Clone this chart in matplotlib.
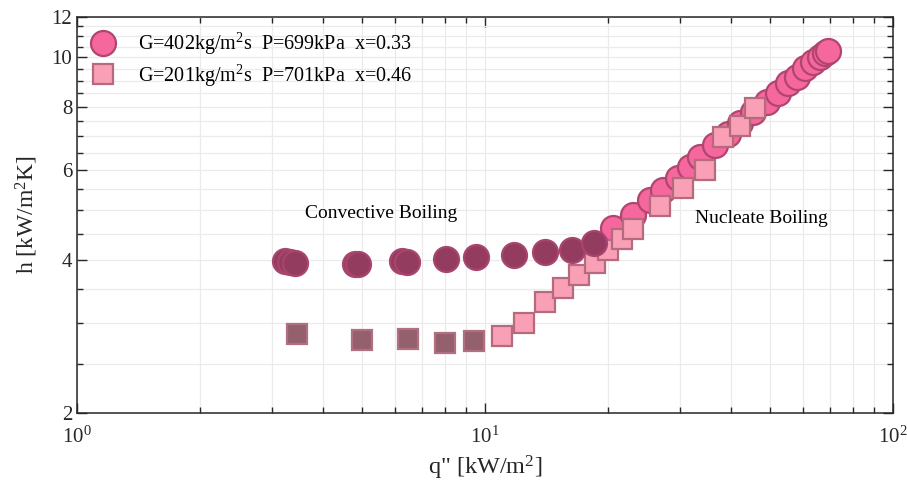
import matplotlib
matplotlib.use("Agg")
import matplotlib.pyplot as plt
import numpy as np
from matplotlib.ticker import FixedLocator, LogLocator, NullFormatter

plt.rcParams["font.family"] = ["Liberation Serif", "DejaVu Serif"]
plt.rcParams["mathtext.fontset"] = "custom"
plt.rcParams["mathtext.rm"] = "Liberation Serif"
plt.rcParams["mathtext.it"] = "Liberation Serif:italic"

# G=402 series (circles): convective region and nucleate region
q_402_conv = [3.24, 3.33, 3.42, 4.80, 4.88, 6.26, 6.44, 8.02, 9.50, 11.8, 14.0, 16.3, 18.5]
h_402_conv = [3.98, 3.96, 3.94, 3.93, 3.92, 3.98, 3.96, 4.01, 4.05, 4.09, 4.14, 4.18, 4.32]
q_402_nuc = [20.6, 23.0, 25.4, 27.3, 29.7, 31.8, 33.7, 36.6, 39.4, 42.2,
             45.4, 49.1, 52.3, 55.3, 58.2, 60.8, 63.7, 66.2, 68.1, 69.3]
h_402_nuc = [4.62, 4.90, 5.24, 5.49, 5.79, 6.09, 6.37, 6.73, 7.07, 7.43,
             7.81, 8.17, 8.51, 8.90, 9.15, 9.53, 9.79, 10.01, 10.20, 10.29]

# G=201 series (squares)
q_201_conv = [3.46, 4.99, 6.48, 7.98, 9.40]
h_201_conv = [2.86, 2.78, 2.80, 2.75, 2.77]
q_201_nuc = [11.0, 12.46, 14.03, 15.54, 17.0, 18.6, 20.0, 21.7, 23.05,
             26.85, 30.6, 34.6, 38.3, 42.2, 45.9]
h_201_nuc = [2.83, 3.01, 3.30, 3.52, 3.73, 3.94, 4.18, 4.40, 4.60,
             5.10, 5.54, 6.01, 6.97, 7.33, 7.95]

label_402 = "G=402kg/m$^2$s  P=699kPa  x=0.33"
label_201 = "G=201kg/m$^2$s  P=701kPa  x=0.46"

y_major = [2, 4, 6, 8, 10, 12]
y_minor = [v for v in np.arange(2.5, 12.0, 0.5) if v not in y_major]

fig = plt.figure(figsize=(9.07, 4.92), dpi=100)
ax = fig.add_axes([0.0849, 0.1606, 0.8997, 0.8048])

ax.plot(q_402_nuc, h_402_nuc, "o", ms=18, mfc="#f5679d", mec="#b0456f", mew=1.6,
        label=label_402, zorder=3)
ax.plot(q_201_nuc, h_201_nuc, "s", ms=14, mfc="#f9a0b6", mec="#b56a7e", mew=1.6,
        label=label_201, zorder=4)
ax.plot(q_402_conv, h_402_conv, "o", ms=18, mfc="#943b60", mec="#a8456f", mew=1.6,
        zorder=5)
ax.plot(q_201_conv, h_201_conv, "s", ms=14, mfc="#94606d", mec="#b07080", mew=1.6,
        zorder=5)

ax.set_xscale("log")
ax.set_yscale("log")
ax.set_xlim(1, 100)
ax.set_ylim(2, 12)

ax.xaxis.set_major_locator(LogLocator(base=10))
ax.xaxis.set_minor_locator(LogLocator(base=10, subs=np.arange(2, 10)))
ax.xaxis.set_minor_formatter(NullFormatter())
ax.yaxis.set_major_locator(FixedLocator(y_major))
ax.yaxis.set_minor_locator(FixedLocator(y_minor))
ax.set_yticklabels([str(v) for v in y_major])
ax.yaxis.set_minor_formatter(NullFormatter())

ax.tick_params(which="both", direction="in", top=True, right=True, labelsize=15,
               colors="#262626", width=1.0)
ax.tick_params(which="major", length=7)
ax.tick_params(which="minor", length=4)
ax.tick_params(axis="x", pad=10)
ax.grid(True, which="both", color="#ebebeb", linewidth=0.9, zorder=0)
ax.set_axisbelow(True)
for sp in ax.spines.values():
    sp.set_color("#262626")
    sp.set_linewidth(1.1)

ax.set_xlabel("q\" [kW/m$^2$]", fontsize=17.5, color="#262626")
ax.set_ylabel("h [kW/m$^2$K]", fontsize=17, color="#262626", labelpad=8)

ax.text(5.56, 4.94, "Convective Boiling", fontsize=14, ha="center", va="center")
ax.text(47.5, 4.83, "Nucleate Boiling", fontsize=14, ha="center", va="center")

ax.legend(loc="upper left", frameon=False, fontsize=14.5, borderaxespad=0.3,
          handlelength=1.2, handletextpad=1.14, labelspacing=0.25,
          bbox_to_anchor=(0.0, 1.0))

fig.savefig("out.png", dpi=100)
